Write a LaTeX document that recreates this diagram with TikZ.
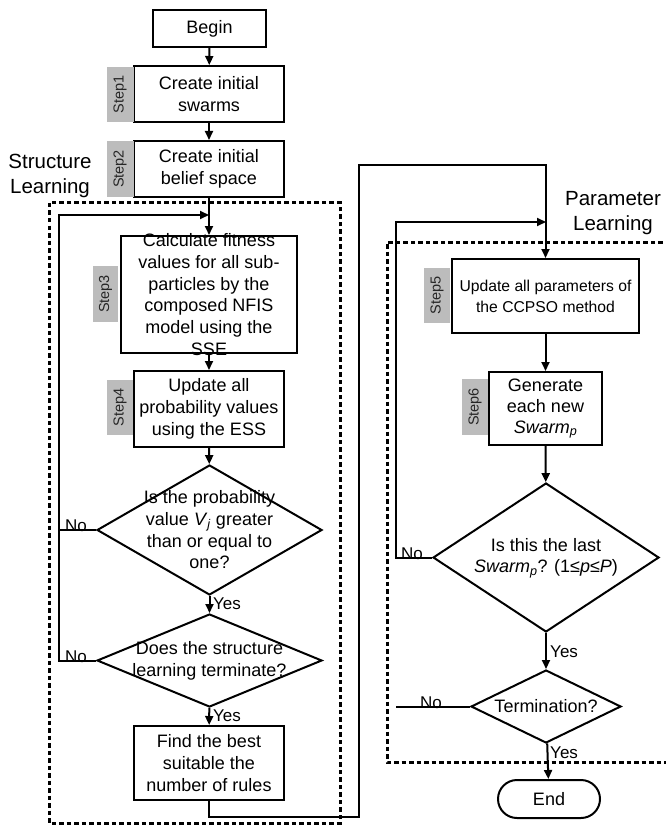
\documentclass[tikz,border=0pt]{standalone}
\usepackage{fontspec}
\setmainfont{Liberation Sans}
\usetikzlibrary{arrows.meta,shapes.geometric}
\definecolor{tabgray}{RGB}{188,188,188}
\begin{document}
\begin{tikzpicture}[x=1pt,y=-1pt,
  base/.style={font=\fontsize{18}{21.7}\selectfont},
  box/.style={draw,line width=2pt,inner sep=0pt,minimum width=150pt,minimum height=56pt,align=center,base},
  decision/.style={draw,diamond,line width=2pt,inner sep=0pt},
  txt/.style={align=center,base,inner sep=0pt},
  tab/.style={fill=tabgray,inner sep=0pt,minimum width=27pt},
  tabtxt/.style={rotate=90,font=\fontsize{14.5}{16}\selectfont,text=black!85,inner sep=0pt},
  flow/.style={line width=2pt,-{Triangle[length=9pt,width=8pt]}},
  link/.style={line width=2pt},
  region/.style={line width=3pt,dash pattern=on 4.5pt off 3pt},
  tag/.style={font=\fontsize{17}{20}\selectfont,inner sep=0pt},
  title/.style={font=\fontsize{20.5}{25}\selectfont,align=center,inner sep=0pt}
]
\useasboundingbox (0,0) rectangle (665,826);

% dashed regions
\draw[region] (49,203) rectangle (340,823);
\draw[region] (670,242) -- (387,242) -- (387,762) -- (670,762);

% region titles
\node[title] (structtitle) at (50,175.5) {Structure\\Learning};
\node[title] (paramtitle) at (613,213.5) {Parameter\\Learning};

% structure learning column
\node[box,minimum width=113pt,minimum height=37pt] (begin) at (209.5,28.5) {Begin};
\node[box] (s1) at (209,94) {Create initial\\swarms};
\node[box] (s2) at (209,169) {Create initial\\belief space};
\node[box,minimum width=176pt,minimum height=117pt] (s3) at (209,294.5) {};
\node[txt] (s3text) at (s3.center) {Calculate fitness\\values for all sub-\\particles by the\\composed NFIS\\model using the\\SSE};
\node[box,minimum height=76pt] (s4) at (209,409) {Update all\\probability values\\using the ESS};
\node[decision,minimum width=225pt,minimum height=130pt] (d1) at (209.5,530) {};
\node[txt] (d1text) at (d1.center) {Is the probability\\value \textit{V}\textsubscript{\textit{j}} greater\\than or equal to\\one?};
\node[decision,minimum width=225pt,minimum height=93pt] (d2) at (209.5,660.5) {};
\node[txt] (d2text) at (d2.center) {Does the structure\\learning terminate?};
\node[box,minimum height=74pt] (best) at (209,763) {Find the best\\suitable the\\number of rules};

% step tabs
\node[tab,minimum height=55pt] (t1) at (120,94.5) {};
\node[tabtxt] (t1text) at (t1.center) {Step1};
\node[tab,minimum height=56pt] (t2) at (120,169) {};
\node[tabtxt] (t2text) at (t2.center) {Step2};
\node[tab,minimum width=25pt,minimum height=56pt] (t3) at (105.5,294) {};
\node[tabtxt] (t3text) at (t3.center) {Step3};
\node[tab,minimum width=26pt,minimum height=55pt] (t4) at (120,407.5) {};
\node[tabtxt] (t4text) at (t4.center) {Step4};

% parameter learning column
\node[box,minimum width=187pt,minimum height=74pt,font=\fontsize{15.7}{21}\selectfont] (s5) at (545.5,296) {Update all parameters of\\the CCPSO method};
\node[box,minimum width=113pt,minimum height=73pt,font=\fontsize{18}{21}\selectfont] (s6) at (545.5,408.5) {Generate\\each new\\\textit{Swarm}\textsubscript{\textit{p}}};
\node[decision,minimum width=226pt,minimum height=149pt] (d3) at (546,557.5) {};
\node[txt] (d3text) at (546,558) {Is this the last\\\textit{Swarm}\textsubscript{\textit{p}}? (1≤\textit{p}≤\textit{P})};
\node[decision,minimum width=150pt,minimum height=73pt] (d4) at (546,706.5) {};
\node[txt] (d4text) at (d4.center) {Termination?};
\node[draw,line width=2pt,rounded corners=19pt,minimum width=102pt,minimum height=38pt,inner sep=0pt,base] (end) at (549,799) {End};

\node[tab,minimum width=26pt,minimum height=55pt] (t5) at (437,295.5) {};
\node[tabtxt] (t5text) at (t5.center) {Step5};
\node[tab,minimum width=26pt,minimum height=56pt] (t6) at (475,407) {};
\node[tabtxt] (t6text) at (t6.center) {Step6};

% junction points on the main lines
\coordinate (j1) at (209,215);
\coordinate (j2) at (546,222);
\coordinate (lx) at (59,0);
\coordinate (rx) at (396,0);

% structure learning connectors
\draw[flow] (begin) -- (s1);
\draw[flow] (s1) -- (s2);
\draw[flow] (s2) -- (s3);
\draw[flow] (s3) -- (s4);
\draw[flow] (s4) -- (d1);
\draw[flow] (d1) -- (d2);
\draw[flow] (d2) -- (best);
\draw[flow] (d1.west) -- (lx |- d1.west) -- (lx |- j1) -- (j1);
\draw[link] (d2.west) -- (lx |- d2.west) -- (lx |- d1.west);
\node[tag,anchor=south east] (no1) at ([xshift=-9pt,yshift=-2pt]d1.west) {No};
\node[tag,anchor=south east] (no2) at ([xshift=-9pt,yshift=-2pt]d2.west) {No};
\node[tag,anchor=west] (yes1) at (213,604) {Yes};
\node[tag,anchor=west] (yes2) at (213,716) {Yes};

% hand-over to parameter learning
\coordinate (h1) at (209,817);
\coordinate (h2) at (359,817);
\coordinate (h3) at (359,165);
\coordinate (h4) at (545.5,165);
\draw[flow] (best.south) -- (h1) -- (h2) -- (h3) -- (h4) -- (s5.north);

% parameter learning connectors
\draw[flow] (s5) -- (s6);
\draw[flow] (s6) -- (d3);
\draw[flow] (d3) -- (d4);
\draw[flow] (d4) -- (end);
\draw[flow] (d3.west) -- (rx |- d3.west) -- (rx |- j2) -- (j2);
\draw[link] (d4.west) -- (rx |- d4.west);
\node[tag,anchor=south east] (no3) at ([xshift=-9pt,yshift=-2pt]d3.west) {No};
\node[tag,anchor=south east] (no4) at ([xshift=-28pt,yshift=-2pt]d4.west) {No};
\node[tag,anchor=west] (yes3) at (550,652) {Yes};
\node[tag,anchor=west] (yes4) at (550,753) {Yes};
\end{tikzpicture}
\end{document}
